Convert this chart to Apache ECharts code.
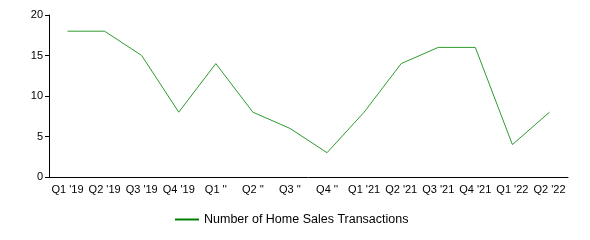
<!DOCTYPE html>
<html><head><meta charset="utf-8">
<script src="https://cdn.jsdelivr.net/npm/echarts@6/dist/echarts.min.js"></script>
<style>html,body{margin:0;padding:0;background:#fff}#c{width:590px;height:240px}</style>
</head><body><div id="c"></div>
<script>
const categories = ["Q1 '19","Q2 '19","Q3 '19","Q4 '19","Q1 ''","Q2 ''","Q3 ''","Q4 ''","Q1 '21","Q2 '21","Q3 '21","Q4 '21","Q1 '22","Q2 '22"];
const transactions = [18,18,15,8,14,8,6,3,8,14,16,16,4,8];
const seriesName = "Number of Home Sales Transactions";
const chart = echarts.init(document.getElementById('c'), null, {renderer:'canvas'});
chart.setOption({
  animation:false,
  grid:{left:49,right:22,top:15,bottom:63},
  legend:{
    data:[{name:seriesName, icon:'rect'}],
    top:213, left:175, padding:0, itemWidth:24, itemHeight:2, itemGap:5,
    textStyle:{fontFamily:'Liberation Sans, Arial', fontSize:12.5, color:'#000', padding:[0,0,0,0]}
  },
  xAxis:{type:'category', data:categories, boundaryGap:true,
    axisLine:{lineStyle:{color:'#000',width:1}}, axisTick:{show:false},
    axisLabel:{color:'#000', fontFamily:'Liberation Sans, Arial', fontSize:11, margin:7, interval:0}},
  yAxis:{type:'value', min:0, max:20, interval:5,
    axisLine:{show:true, lineStyle:{color:'#000',width:1}}, axisTick:{show:true, length:4, lineStyle:{color:'#000'}},
    splitLine:{show:false},
    axisLabel:{color:'#000', fontFamily:'Liberation Sans, Arial', fontSize:11, margin:6}},
  series:[{name:seriesName, type:'line', data:transactions, showSymbol:false, symbol:'none',
    lineStyle:{color:'#2e9a2e', width:1}, itemStyle:{color:'#008000'}}]
});
</script></body></html>
